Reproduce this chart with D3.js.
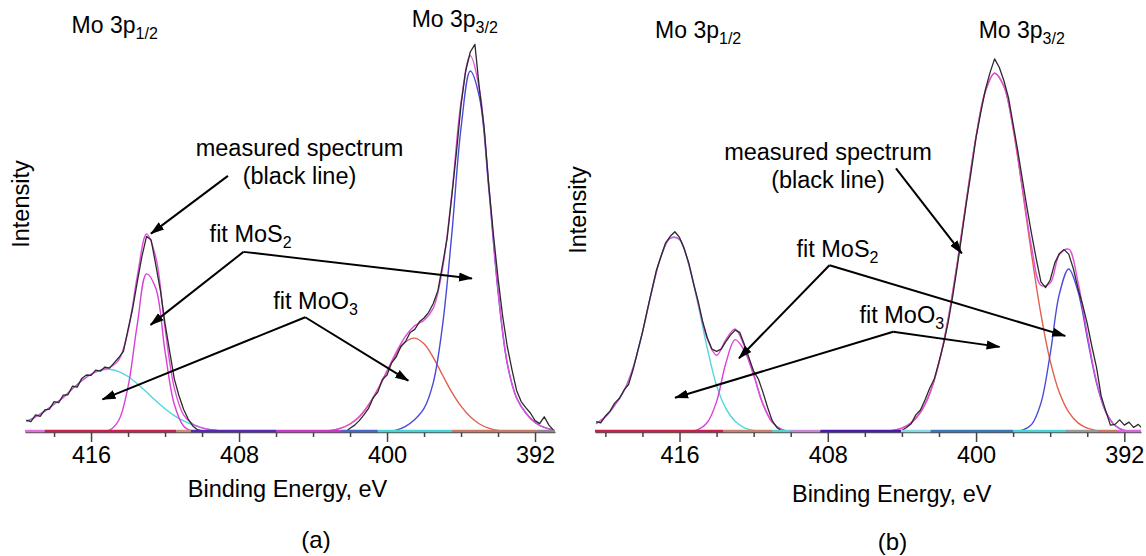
<!DOCTYPE html>
<html><head><meta charset="utf-8">
<script src="https://cdn.jsdelivr.net/npm/d3@7"></script>
<style>
html,body{margin:0;padding:0;background:#fff;}
svg{display:block;font-family:"Liberation Sans", Arial, Helvetica, sans-serif;}
</style></head><body>
<svg id="chart" width="1146" height="556"></svg>
<script>
// ---------------- DATA ----------------
const tickLabels = [416, 408, 400, 392];
const minorTickValues = [420, 418, 414, 412, 410, 406, 404, 402, 398, 396, 394];

// Panel (a): fitted components, 0.5 eV grid starting at 419.5 eV (descending)
const fitStartA = 419.5;
const moo3HalfA = [ // MoO3 3p1/2 (cyan)
  0.028,0.040,0.055,0.073, 0.091,0.114,0.135,0.152, 0.162,0.165,0.159,0.146, 0.127,0.105,0.082,0.061,
  0.043,0.029,0.019,0.011, 0.006,0.003,0.001,0, 0,0,0,0, 0,0,0,0,
  0,0,0,0, 0,0,0,0, 0,0,0,0, 0,0,0,0, 0,0,0,0, 0,0,0,0, 0,0];
const mos2HalfA = [ // MoS2 3p1/2 (magenta)
  0,0,0,0, 0,0,0,0, 0.001,0.005,0.031,0.119, 0.283,0.416,0.378,0.212,
  0.073,0.016,0.002,0, 0,0,0,0, 0,0,0,0, 0,0,0,0,
  0,0,0,0, 0,0,0,0, 0,0,0,0, 0,0,0,0, 0,0,0,0, 0,0,0,0, 0,0];
const moo3ThreeA = [ // MoO3 3p3/2 (red)
  0,0,0,0, 0,0,0,0, 0,0,0,0, 0,0,0,0, 0,0,0,0, 0,0,0,0, 0,0,0,0, 0,0,0,0,
  0.002,0.004,0.010,0.021, 0.040,0.071,0.112,0.160, 0.205,0.237,0.247,0.232,
  0.196,0.150,0.105,0.068, 0.040,0.021,0.010,0.004, 0.001,0,0,0, 0,0];
const mos2ThreeA = [ // MoS2 3p3/2 (blue)
  0,0,0,0, 0,0,0,0, 0,0,0,0, 0,0,0,0, 0,0,0,0, 0,0,0,0, 0,0,0,0, 0,0,0,0,
  0,0,0,0, 0,0,0,0.001, 0.005,0.015,0.033,0.062,
  0.130,0.280,0.520,0.800, 0.950,0.880,0.640,0.370, 0.180,0.090,0.050,0.025, 0.012,0.006];
const envelopeA = [
  0.028,0.040,0.055,0.073, 0.091,0.114,0.135,0.152, 0.163,0.170,0.190,0.265, 0.410,0.521,0.460,0.273,
  0.116,0.045,0.021,0.011, 0.006,0.003,0.001,0, 0,0,0,0, 0,0,0,0,
  0.002,0.004,0.010,0.021, 0.040,0.071,0.112,0.161, 0.210,0.252,0.280,0.294,
  0.326,0.430,0.625,0.868, 0.990,0.901,0.650,0.374, 0.181,0.090,0.050,0.025, 0.012,0.006];
// measured spectrum, 0.25 eV grid starting at 419.5 eV
const measStartA = 419.5;
const measuredA = [
  0.031,0.027,0.045,0.041,0.058,0.060,0.080,0.077,
  0.097,0.098,0.121,0.118,0.141,0.150,0.149,0.163,
  0.160,0.171,0.168,0.182,0.196,0.212,0.270,0.325,
  0.395,0.462,0.515,0.505,0.440,0.372,0.285,0.212,
  0.140,0.096,0.060,0.034,0.016,0.006,0.003,0,
  0,0,0,0,0,0,0,0,
  0,0,0,0,0,0,0,0,
  0,0,0,0,0,0,0,0,
  0,0,0,0,0,0,0.010,0.018,
  0.030,0.045,0.062,0.090,0.105,0.138,0.150,0.182,
  0.198,0.226,0.238,0.262,0.270,0.290,0.300,0.315,
  0.338,0.372,0.440,0.510,0.620,0.735,0.860,0.950,
  1.000,1.020,0.900,0.800,0.650,0.520,0.405,0.305,
  0.225,0.165,0.110,0.080,0.064,0.050,0.030,0.022,
  0.040,0.018,0.005];

// Panel (b)
const fitStartB = 420.5;
const moo3HalfB = [
  0.022,0.040,0.070,0.108, 0.170,0.262,0.370,0.462, 0.510,0.507,0.440,0.335, 0.220,0.122,0.062,0.028,
  0.011,0.004,0.001,0, 0,0,0,0, 0,0,0,0, 0,0,0,0,
  0,0,0,0, 0,0,0,0, 0,0,0,0, 0,0,0,0, 0,0,0,0, 0,0,0,0, 0,0,0,0];
const mos2HalfB = [
  0,0,0,0, 0,0,0,0, 0,0,0.001,0.006, 0.025,0.080,0.181,0.243,
  0.214,0.149,0.073,0.026, 0.007,0.001,0,0, 0,0,0,0, 0,0,0,0,
  0,0,0,0, 0,0,0,0, 0,0,0,0, 0,0,0,0, 0,0,0,0, 0,0,0,0, 0,0,0,0];
const moo3ThreeB = [
  0,0,0,0, 0,0,0,0, 0,0,0,0, 0,0,0,0, 0,0,0,0, 0,0,0,0, 0,0,0,0, 0,0,0,0.001,
  0.004,0.010,0.024,0.052, 0.101,0.182,0.299,0.449, 0.617,0.777,0.896,0.944,
  0.910,0.798,0.638,0.466, 0.310,0.187,0.103,0.052, 0.024,0.010,0.004,0.001, 0,0,0,0];
const mos2ThreeB = [
  0,0,0,0, 0,0,0,0, 0,0,0,0, 0,0,0,0, 0,0,0,0, 0,0,0,0, 0,0,0,0, 0,0,0,0,
  0,0,0,0, 0,0,0,0, 0,0,0,0,
  0,0.003,0.005,0.020, 0.076,0.205,0.364,0.429, 0.370,0.248,0.129,0.053, 0.017,0.004,0.001,0];
const envelopeB = [
  0.022,0.040,0.070,0.108, 0.170,0.262,0.370,0.462, 0.510,0.507,0.441,0.341, 0.245,0.202,0.243,0.271,
  0.225,0.153,0.074,0.026, 0.007,0.001,0,0, 0,0,0,0, 0,0,0,0.001,
  0.004,0.010,0.024,0.052, 0.101,0.182,0.299,0.449, 0.617,0.777,0.896,0.944,
  0.910,0.801,0.643,0.486, 0.386,0.392,0.467,0.481, 0.394,0.258,0.133,0.054, 0.017,0.004,0.001,0];
const measStartB = 420.5;
const measuredB = [
  0.027,0.024,0.042,0.055,0.076,0.088,0.110,0.125,
  0.165,0.214,0.262,0.318,0.372,0.425,0.462,0.498,
  0.515,0.527,0.512,0.482,0.445,0.392,0.345,0.290,
  0.248,0.218,0.212,0.218,0.238,0.255,0.268,0.262,
  0.230,0.195,0.160,0.140,0.105,0.065,0.030,0.012,
  0.003,0,0,0,0,0,0,0,
  0,0,0,0,0,0,0,0,
  0,0,0,0,0,0,0,0,
  0,0,0.004,0.012,0.022,0.045,0.058,0.085,
  0.115,0.140,0.185,0.232,0.290,0.360,0.440,0.525,
  0.610,0.690,0.775,0.840,0.900,0.945,0.982,0.960,
  0.925,0.880,0.810,0.740,0.665,0.590,0.520,0.455,
  0.395,0.380,0.400,0.445,0.470,0.480,0.468,0.430,
  0.378,0.335,0.285,0.225,0.170,0.095,0.055,0.018,
  0.020,0.032,0.018,0.026,0.012,0.020,0.008];

// baseline colour breaks (energies) where the flat fit tails overlap the axis
const baselineBreaksA = [419.57, 418.5, 411.4, 410.6, 406.0, 402.5, 400.5, 396.5, 391.9, 390.92];
const baselineBreaksB = [420.56, 413.65, 411.0, 410.0, 408.4, 404.05, 402.45, 398.0, 395.15, 393.4, 392.35, 391.1];

// annotation anchors in data units [energy, intensity]
const annotA = {
  measuredText: [404.73, 0.726, 0.653],
  measuredArrow: [[408.6, 0.674], [412.76, 0.522]],
  mosText: [409.59, 0.501],
  mosVertex: [407.76, 0.474], mosTips: [[412.78, 0.282], [395.41, 0.404]],
  mooText: [406.15, 0.323],
  mooVertex: [404.42, 0.302], mooTips: [[415.38, 0.086], [398.85, 0.135]],
  p12: [417.05, 1.049], p32: [398.67, 1.066]
};
const annotB = {
  measuredText: [407.99, 0.716, 0.641],
  measuredArrow: [[404.32, 0.694], [400.77, 0.470]],
  mosText: [409.69, 0.461],
  mosVertex: [407.91, 0.439], mosTips: [[412.79, 0.194], [395.19, 0.253]],
  mooText: [406.29, 0.286],
  mooVertex: [404.47, 0.264], mooTips: [[416.24, 0.090], [398.73, 0.224]],
  p12: [417.32, 1.036], p32: [399.86, 1.036]
};

// ---------------- STYLE / LAYOUT ----------------
const colors = {measured:'#2b2b2b', envelope:'#e050dc', mos2Half:'#d840d8', mos2Three:'#4a4ad8', moo3Half:'#50d6e0', moo3Three:'#e0604e'};
const baselineColorsA = ['#e070e0','#c8204c','#d08878','#5a28b0','#c838c8','#4a68c8','#48d4d8','#c87a68','#8a8a8a'];
const baselineColorsB = ['#c8204c','#c88070','#58d0d0','#c888d8','#4a1ab0','#88d8e8','#3a78b8','#48d4d8','#9a9a9a','#c87a68','#d868d8'];
const FS = 23.5, SUB = 16;

const panels = [
  {id:'a', xDomain:[419.57, 390.92], xRange:[25,555], fitStart:fitStartA, measStart:measStartA,
   moo3Half:moo3HalfA, mos2Half:mos2HalfA, moo3Three:moo3ThreeA, mos2Three:mos2ThreeA, envelope:envelopeA, measured:measuredA,
   breaks:baselineBreaksA, bcolors:baselineColorsA, ann:annotA,
   intensity:[29,204], xlabel:[287.5,497], letter:[316,548], letterText:'(a)'},
  {id:'b', xDomain:[420.56, 391.1], xRange:[595,1141], fitStart:fitStartB, measStart:measStartB,
   moo3Half:moo3HalfB, mos2Half:mos2HalfB, moo3Three:moo3ThreeB, mos2Three:mos2ThreeB, envelope:envelopeB, measured:measuredB,
   breaks:baselineBreaksB, bcolors:baselineColorsB, ann:annotB,
   intensity:[586,210], xlabel:[891.7,502], letter:[892.5,550], letterText:'(b)'}
];

const svg = d3.select('#chart');
const defs = svg.append('defs');
defs.append('marker').attr('id','arrow').attr('viewBox','0 -5 14 10').attr('refX',13).attr('refY',0)
  .attr('markerWidth',14).attr('markerHeight',10).attr('markerUnits','userSpaceOnUse').attr('orient','auto')
  .append('path').attr('d','M0,-4.5L14,0L0,4.5Z').attr('fill','#000');

function subText(g, x, y, main, sub, size, anchor){
  const t = g.append('text').attr('x',x).attr('y',y).attr('font-size',size).attr('fill','#000')
    .attr('text-anchor',anchor||'start');
  t.append('tspan').text(main);
  t.append('tspan').attr('font-size',SUB).attr('dy',6).text(sub);
  return t;
}

panels.forEach(p => {
  const x = d3.scaleLinear().domain(p.xDomain).range(p.xRange);
  const y = d3.scaleLinear().domain([0,1]).range([432,52]);
  const g = svg.append('g');
  const clipId = 'clip' + p.id;
  defs.append('clipPath').attr('id',clipId).append('rect')
    .attr('x',p.xRange[0]).attr('y',0).attr('width',p.xRange[1]-p.xRange[0]).attr('height',432);

  // axis
  const ag = g.append('g').attr('transform','translate(0,432)')
    .call(d3.axisBottom(x).tickValues(tickLabels).tickSize(10).tickSizeOuter(0).tickPadding(4).tickFormat(d3.format('d')));
  ag.attr('font-size',FS).attr('font-family','"Liberation Sans", Arial, sans-serif');
  ag.select('.domain').attr('stroke','#555').attr('stroke-width',1.5);
  ag.selectAll('.tick line').attr('stroke','#444').attr('stroke-width',1.5);
  ag.selectAll('.tick text').attr('fill','#000');
  const dom = x.domain();
  const minors = minorTickValues.filter(v => v <= dom[0] && v >= dom[1]);
  const mg = g.append('g').attr('transform','translate(0,432)')
    .call(d3.axisBottom(x).tickValues(minors).tickSize(5).tickSizeOuter(0).tickFormat(''));
  mg.select('.domain').remove();
  mg.selectAll('.tick line').attr('stroke','#444').attr('stroke-width',1.5);

  // curves
  const fitE = d3.range(p.envelope.length).map(i => p.fitStart - i*0.5);
  const measE = d3.range(p.measured.length).map(i => p.measStart - i*0.25);
  const smooth = d3.line().x(d => x(d[0])).y(d => y(d[1])).curve(d3.curveCatmullRom.alpha(0.5));
  const linear = d3.line().x(d => x(d[0])).y(d => y(d[1]));
  const cg = g.append('g').attr('clip-path',`url(#${clipId})`);
  [[p.moo3Half,colors.moo3Half],[p.moo3Three,colors.moo3Three],[p.mos2Three,colors.mos2Three],
   [p.mos2Half,colors.mos2Half],[p.envelope,colors.envelope]].forEach(([arr,c]) => {
    cg.append('path').datum(arr.map((v,i) => [fitE[i], v])).attr('d',smooth)
      .attr('fill','none').attr('stroke',c).attr('stroke-width',1.4);
  });
  cg.append('path').datum(p.measured.map((v,i) => [measE[i], v])).attr('d',linear)
    .attr('fill','none').attr('stroke',colors.measured).attr('stroke-width',1.3).attr('stroke-linejoin','round');

  // coloured baseline
  for (let i=0;i<p.breaks.length-1;i++){
    g.append('line').attr('x1',x(p.breaks[i])).attr('x2',x(p.breaks[i+1])).attr('y1',431).attr('y2',431)
      .attr('stroke',p.bcolors[i]).attr('stroke-width',2.5);
  }

  // axis titles
  g.append('text').attr('transform',`translate(${p.intensity[0]},${p.intensity[1]}) rotate(-90)`)
    .attr('text-anchor','middle').attr('font-size',FS).text('Intensity');
  g.append('text').attr('x',p.xlabel[0]).attr('y',p.xlabel[1]).attr('text-anchor','middle')
    .attr('font-size',FS).text('Binding Energy, eV');
  g.append('text').attr('x',p.letter[0]).attr('y',p.letter[1]).attr('text-anchor','middle')
    .attr('font-size',FS+0.5).text(p.letterText);

  // annotations
  const a = p.ann;
  subText(g, x(a.p12[0]), y(a.p12[1]), 'Mo 3p', '1/2', 23);
  subText(g, x(a.p32[0]), y(a.p32[1]), 'Mo 3p', '3/2', 23);
  g.append('text').attr('x',x(a.measuredText[0])).attr('y',y(a.measuredText[1])).attr('text-anchor','middle')
    .attr('font-size',FS).text('measured spectrum');
  g.append('text').attr('x',x(a.measuredText[0])).attr('y',y(a.measuredText[2])).attr('text-anchor','middle')
    .attr('font-size',FS).text('(black line)');
  const arrow = (p0,p1) => g.append('line').attr('x1',x(p0[0])).attr('y1',y(p0[1])).attr('x2',x(p1[0])).attr('y2',y(p1[1]))
    .attr('stroke','#000').attr('stroke-width',2).attr('marker-end','url(#arrow)');
  arrow(a.measuredArrow[0], a.measuredArrow[1]);
  subText(g, x(a.mosText[0]), y(a.mosText[1]), 'fit MoS', '2', FS);
  a.mosTips.forEach(t => arrow(a.mosVertex, t));
  subText(g, x(a.mooText[0]), y(a.mooText[1]), 'fit MoO', '3', FS);
  a.mooTips.forEach(t => arrow(a.mooVertex, t));
});
</script>
</body></html>
